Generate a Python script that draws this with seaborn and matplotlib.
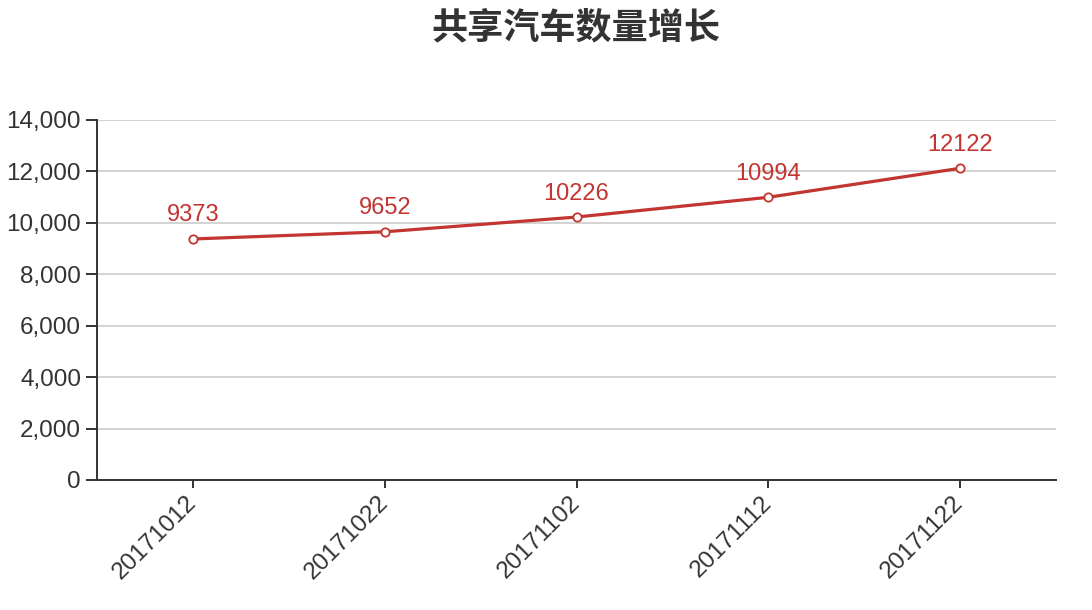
import matplotlib
matplotlib.use("Agg")
import matplotlib.pyplot as plt
import matplotlib.ticker as mticker
import seaborn as sns
import pandas as pd

dates = ["20171012", "20171022", "20171102", "20171112", "20171122"]
counts = [9373, 9652, 10226, 10994, 12122]
title = "共享汽车数量增长"

red = "#c23531"
dark = "#333333"

sns.set_style("ticks")
plt.rcParams['font.family'] = ['Liberation Sans', 'Noto Sans CJK SC', 'DejaVu Sans']

data = pd.DataFrame({"date": dates, "count": counts})
data["pos"] = range(len(dates))

fig = plt.figure(figsize=(10.92, 6.10), dpi=100)
ax = fig.add_axes([97/1092, 1 - 480/610, (1056-97)/1092, 360/610])

sns.lineplot(data=data, x="pos", y="count", ax=ax, color=red, linewidth=2.3,
             marker="o", markersize=6, markerfacecolor="white",
             markeredgecolor=red, markeredgewidth=1.3, zorder=3)

for x, y in zip(data["pos"], data["count"]):
    ax.annotate(str(y), (x, y), xytext=(0, 9), textcoords="offset points",
                ha="center", va="bottom", color=red, fontsize=17)

ax.set_xlim(-0.5, len(dates) - 0.5)
ax.set_ylim(0, 14000)
ax.set_yticks(range(0, 14001, 2000))
ax.yaxis.set_major_formatter(mticker.FuncFormatter(lambda v, p: "{:,.0f}".format(v)))
ax.set_xticks(data["pos"])
ax.set_xticklabels(dates, rotation=45, ha="right", va="center", rotation_mode="anchor")

ax.grid(axis="y", color="#cccccc", linewidth=1.2)
ax.set_axisbelow(True)
ax.set_xlabel("")
ax.set_ylabel("")

for side in ["top", "right"]:
    ax.spines[side].set_visible(False)
for side in ["left", "bottom"]:
    ax.spines[side].set_color(dark)
    ax.spines[side].set_linewidth(1.4)

ax.tick_params(axis="both", colors=dark, labelcolor=dark, labelsize=17.5,
               length=8, width=1.4, direction="out")
ax.tick_params(axis="x", length=6, pad=8)

fig.text(576/1092, 1 - 28/610, title, ha="center", va="center",
         fontsize=26, fontweight="bold", color=dark,
         family=['Noto Sans CJK SC', 'DejaVu Sans'])

plt.savefig("out.png", dpi=100)
